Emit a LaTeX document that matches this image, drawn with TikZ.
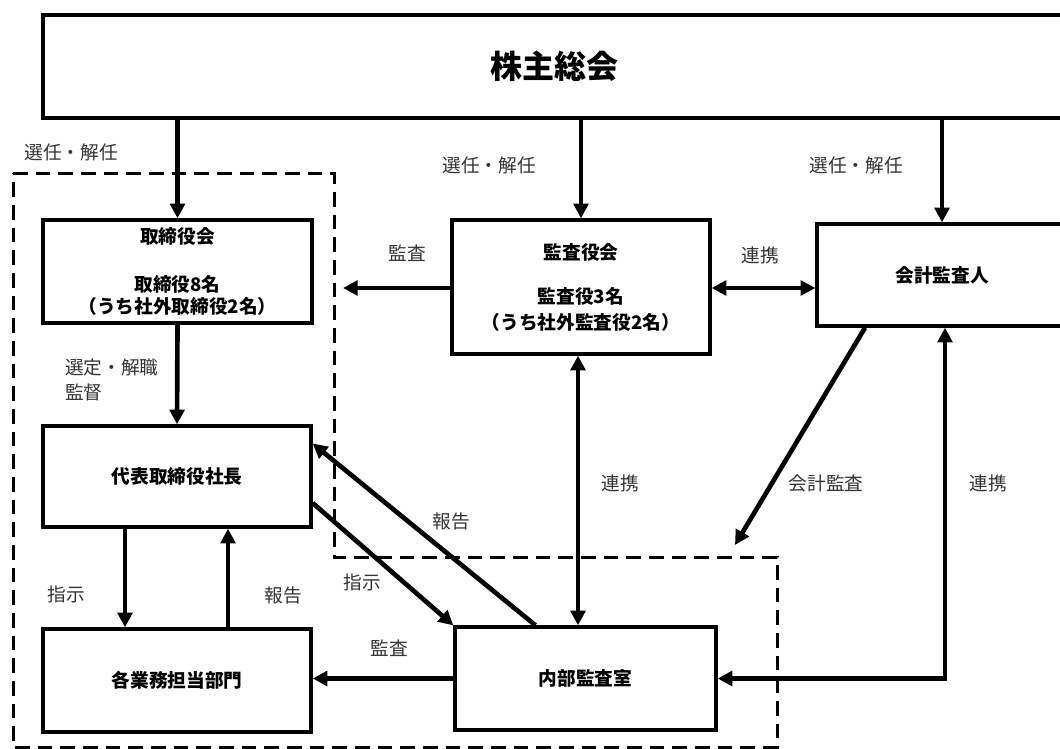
\documentclass[tikz,border=0pt]{standalone}
\usepackage{fontspec}
\setmainfont{Noto Sans CJK JP}
\newfontfamily\jp{Noto Sans CJK JP}
\usetikzlibrary{arrows.meta,calc}
\begin{document}
\begin{tikzpicture}[x=0.75pt,y=-0.75pt,
  box/.style={draw,line width=2.5pt,fill=white,inner sep=0pt,align=center,
    font=\jp\bfseries\fontsize{14}{16}\selectfont},
  arr/.style={line width=3.5pt,-{Triangle[length=11pt,width=11pt]}},
  darr/.style={line width=3.5pt,{Triangle[length=11pt,width=11pt]}-{Triangle[length=11pt,width=11pt]}},
  lbl/.style={inner sep=0pt,text=black!80,font=\jp\fontsize{14}{19}\selectfont,align=left},
  frame/.style={line width=2.25pt,dash pattern=on 11pt off 6pt}]
\clip (0,0) rectangle (1060,749);
% dashed frame
\draw[frame] (13,173) -- (334,173) -- (334,557) -- (777,557) -- (777,747) -- (13,747) -- cycle;
% boxes
\node[box,minimum width=766.5pt,minimum height=77.25pt,font=\jp\bfseries\fontsize{24}{28}\selectfont] (kabu) at (554,66.5) {株主総会};
\node[box,minimum width=201.75pt,minimum height=77.25pt] (tori) at (177.5,271.5) {取締役会\\[20pt]取締役8名\\（うち社外取締役2名）};
\node[box,minimum width=193.5pt,minimum height=100.5pt,font=\jp\bfseries\fontsize{14}{19.5}\selectfont] (kansa) at (581,287) {監査役会\\[13.5pt]監査役3名\\（うち社外監査役2名）};
\node[box,minimum width=187.5pt,minimum height=76.5pt] (kaikei) at (942,275) {会計監査人};
\node[box,minimum width=201pt,minimum height=75.75pt] (daihyo) at (177,476.5) {代表取締役社長};
\node[box,minimum width=201pt,minimum height=77.25pt] (gyomu) at (177,680.5) {各業務担当部門};
\node[box,minimum width=195.75pt,minimum height=77.25pt] (naibu) at (585.5,678.5) {内部監査室};
% helper coordinates
\coordinate (c125) at (125,0);
\coordinate (c228) at (228,0);
\coordinate (c578) at (578,0);
\coordinate (c945) at (945,0);
\coordinate (c288) at (0,288);
\coordinate (cAudL) at (343,288);
\coordinate (cAcc) at (735,545);
% connectors
\draw[arr] (kabu.south -| tori.north) -- (tori.north);
\draw[arr] (kabu.south -| kansa.north) -- (kansa.north);
\draw[arr] (kabu.south -| kaikei.north) -- (kaikei.north);
\draw[arr] (kansa.west |- c288) -- (cAudL);
\draw[darr] (kansa.east |- c288) -- (kaikei.west |- c288);
\draw[arr] (tori.south) -- (daihyo.north);
\draw[arr] (daihyo.south -| c125) -- (gyomu.north -| c125);
\draw[arr] (gyomu.north -| c228) -- (daihyo.south -| c228);
\draw[arr] ($(daihyo.east)+(0,26.5)$) -- (naibu.north west);
\draw[arr] ($(naibu.north)+(-50,0)$) -- ($(daihyo.east)+(0,-33)$);
\draw[arr] (naibu.west) -- (naibu.west -| gyomu.east);
\draw[darr] (kansa.south -| c578) -- (naibu.north -| c578);
\draw[arr] ($(kaikei.south)+(-77,0)$) -- (cAcc);
\draw[darr] (kaikei.south -| c945) |- (naibu.east);
% labels
\node[lbl] (l1) at (71,152) {選任・解任};
\node[lbl] (l2) at (489,165) {選任・解任};
\node[lbl] (l3) at (856,165) {選任・解任};
\node[lbl] (l4) at (407,253) {監査};
\node[lbl] (l5) at (760,255) {連携};
\node[lbl,anchor=west] (l6) at (65,380) {選定・解職\\監督};
\node[lbl] (l7) at (66,594) {指示};
\node[lbl] (l8) at (283,595) {報告};
\node[lbl] (l9) at (362,582) {指示};
\node[lbl] (l10) at (451,521) {報告};
\node[lbl] (l11) at (389,648) {監査};
\node[lbl] (l12) at (620,483) {連携};
\node[lbl] (l13) at (826,483) {会計監査};
\node[lbl] (l14) at (988,483) {連携};
\end{tikzpicture}
\end{document}
